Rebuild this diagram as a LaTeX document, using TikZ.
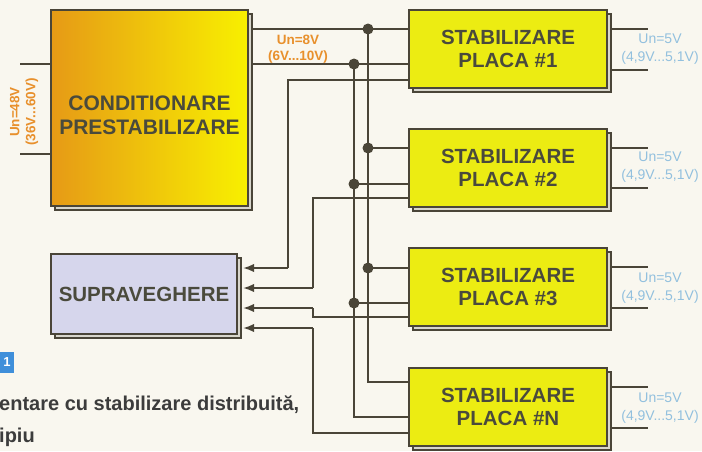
\documentclass[tikz,border=0pt]{standalone}
\usepackage{fontspec}
\setmainfont{Liberation Sans}
\usetikzlibrary{shadows,arrows.meta,backgrounds}
\definecolor{linec}{HTML}{4A4538}
\definecolor{txtc}{HTML}{4A4A3C}
\definecolor{bgc}{HTML}{F9F7EF}
\definecolor{condL}{HTML}{E69A16}
\definecolor{condR}{HTML}{F8F000}
\definecolor{placac}{HTML}{ECEC12}
\definecolor{supc}{HTML}{D6D6EC}
\definecolor{shadc}{HTML}{D8D6CC}
\definecolor{orangec}{HTML}{E8902C}
\definecolor{bluec}{HTML}{92C0DE}
\definecolor{capblue}{HTML}{3F8FDA}
\definecolor{captxt}{HTML}{3C3C3C}
\tikzset{
  boxbase/.style={draw=linec, line width=2.4pt, inner sep=0pt, align=center,
    text=txtc, font=\fontsize{20.5}{23}\selectfont\bfseries,
    general shadow={shadow xshift=4pt, shadow yshift=-4pt, fill=shadc, draw=linec, line width=1.6pt}},
  condbox/.style={boxbase, minimum width=197pt, minimum height=196pt,
    left color=condL, right color=condR},
  placabox/.style={boxbase, fill=placac, minimum width=198pt, minimum height=78pt},
  supbox/.style={boxbase, fill=supc, minimum width=186pt, minimum height=80pt},
  wire/.style={draw=linec, line width=1.6pt},
  arr/.style={wire, -{Latex[length=11pt,width=8.5pt]}},
  jdot/.style={circle, fill=linec, draw=none, inner sep=0pt, minimum size=11pt},
  olab/.style={text=orangec, font=\fontsize{13.5}{16}\selectfont\bfseries, align=center, inner sep=0pt},
  blab/.style={text=bluec, font=\fontsize{14}{18}\selectfont, align=center, inner sep=0pt},
}
\begin{document}
\begin{tikzpicture}[x=1pt,y=-1pt]
\useasboundingbox (0,0) rectangle (702,451);
\begin{scope}[on background layer]
\fill[bgc] (0,0) rectangle (702,451);
\end{scope}

% boxes
\node[condbox] (cond) at (149.5,108) {};
\node[text=txtc, align=center, font=\fontsize{21}{24}\selectfont\bfseries] (condtxt) at (149.5,115) {CONDITIONARE\\PRESTABILIZARE};
\node[placabox] (p1) at (508,49) {STABILIZARE\\PLACA \#1};
\node[placabox] (p2) at (508,168) {STABILIZARE\\PLACA \#2};
\node[placabox] (p3) at (508,287) {STABILIZARE\\PLACA \#3};
\node[placabox] (pN) at (508,407) {STABILIZARE\\PLACA \#N};
\node[supbox] (sup) at (144,294) {SUPRAVEGHERE};

\coordinate (b1) at (368,29);
\coordinate (b2) at (354,64);
\coordinate (se) at ([xshift=5pt]sup.east);
\coordinate (inA) at (20,64);
\coordinate (inB) at (20,154);

\begin{scope}[on background layer]
% input
\draw[wire] (inA) -- (cond.west |- inA);
\draw[wire] (inB) -- (cond.west |- inB);
% main buses
\draw[wire] (cond.east |- b1) -- (p1.west |- b1);
\draw[wire] (cond.east |- b2) -- (p1.west |- b2);
\draw[wire] (b1) |- (pN.west |- 0,382);
\draw[wire] (b2) |- (pN.west |- 0,417);
\draw[wire] (b1 |- 0,148) -- (p2.west |- 0,148);
\draw[wire] (b2 |- 0,184) -- (p2.west |- 0,184);
\draw[wire] (b1 |- 0,268) -- (p3.west |- 0,268);
\draw[wire] (b2 |- 0,303) -- (p3.west |- 0,303);
% outputs
\draw[wire] (p1.east |- 0,29) -- (648,29);
\draw[wire] (p1.east |- 0,70) -- (648,70);
\draw[wire] (p2.east |- 0,148) -- (648,148);
\draw[wire] (p2.east |- 0,188) -- (648,188);
\draw[wire] (p3.east |- 0,267) -- (648,267);
\draw[wire] (p3.east |- 0,308) -- (648,308);
\draw[wire] (pN.east |- 0,387) -- (648,387);
\draw[wire] (pN.east |- 0,428) -- (648,428);
% supervision lines
\draw[wire] (p1.west |- 0,80) -| (288,268);
\draw[wire] (p2.west |- 0,198) -| (313,288);
\draw[wire] (p3.west |- 0,317) -| (313,308);
\draw[wire] (pN.west |- 0,433) -| (313,328);
\end{scope}

\draw[arr] (288,268) -- (se |- 0,268);
\draw[arr] (313,288) -- (se |- 0,288);
\draw[arr] (313,308) -- (se |- 0,308);
\draw[arr] (313,328) -- (se |- 0,328);

% junction dots
\node[jdot] (d1) at (b1) {};
\node[jdot] (d2) at (b2) {};
\node[jdot] (d3) at (b1 |- 0,148) {};
\node[jdot] (d4) at (b2 |- 0,184) {};
\node[jdot] (d5) at (b1 |- 0,268) {};
\node[jdot] (d6) at (b2 |- 0,303) {};

% labels
\node[olab] (l8) at (298,49) {Un=8V\\(6V...10V)};
\node[olab, rotate=90] (l48) at (24,112) {Un=48V\\(36V...60V)};
\node[blab] (l5a) at (660,49) {Un=5V\\(4,9V...5,1V)};
\node[blab] (l5b) at (660,167) {Un=5V\\(4,9V...5,1V)};
\node[blab] (l5c) at (660,288) {Un=5V\\(4,9V...5,1V)};
\node[blab] (l5d) at (660,408) {Un=5V\\(4,9V...5,1V)};

% caption fragments
\node[fill=capblue, text=white, minimum width=14pt, minimum height=21pt, inner sep=0pt,
  font=\fontsize{13}{15}\selectfont\bfseries] (fig) at (7,362.5) {1};
\node[anchor=base west, inner sep=0pt, text=captxt, font=\fontsize{20}{24}\selectfont\bfseries] (cap1) at (-1,410) {entare cu stabilizare distribuită,};
\node[anchor=base west, inner sep=0pt, text=captxt, font=\fontsize{20}{24}\selectfont\bfseries] (cap2) at (-1,442) {ipiu};
\end{tikzpicture}
\end{document}
